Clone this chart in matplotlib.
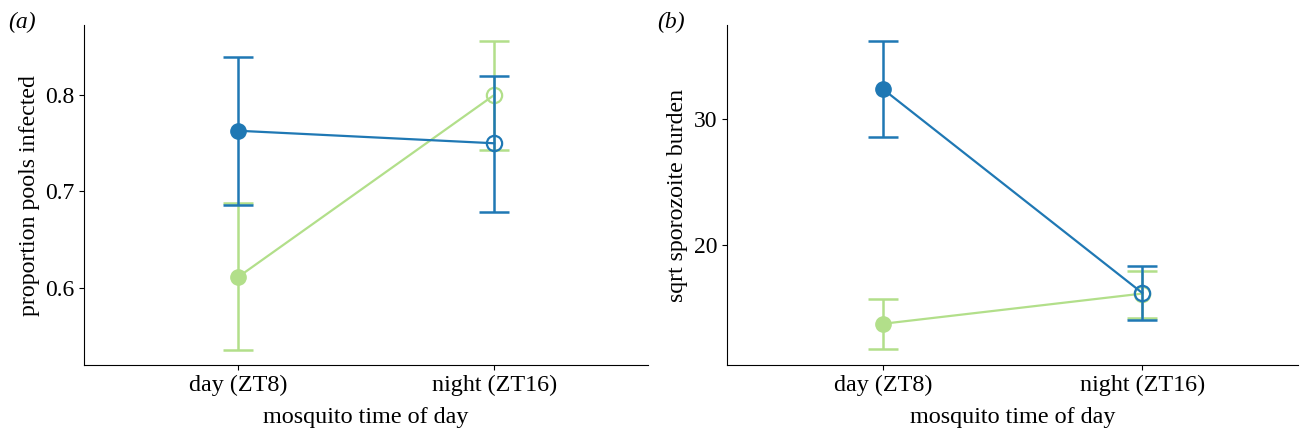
import numpy as np
import matplotlib
matplotlib.use("Agg")
import matplotlib.pyplot as plt

plt.rcParams['font.family'] = ['Liberation Serif', 'DejaVu Serif']
plt.rcParams['mathtext.fontset'] = 'stix'

categories = ["day (ZT8)", "night (ZT16)"]

# panel a: proportion of pools infected
a_blue = [0.763, 0.750]
a_blue_lo = [0.686, 0.679]
a_blue_hi = [0.840, 0.820]
a_green = [0.611, 0.800]
a_green_lo = [0.536, 0.743]
a_green_hi = [0.688, 0.856]

# panel b: sqrt sporozoite burden
b_blue = [32.4, 16.2]
b_blue_lo = [28.55, 14.05]
b_blue_hi = [36.2, 18.35]
b_green = [13.75, 16.15]
b_green_lo = [11.75, 14.2]
b_green_hi = [15.7, 17.95]

BLUE = "#1f78b4"
GREEN = "#b2df8a"


def draw_series(ax, y, lo, hi, color, zorder):
    x = np.arange(len(y))
    y = np.array(y)
    yerr = [y - np.array(lo), np.array(hi) - y]
    ax.errorbar(x, y, yerr=yerr, color=color, capsize=11, capthick=1.8,
                elinewidth=1.8, fmt="none", zorder=zorder)
    ax.plot(x, y, color=color, lw=1.6, zorder=zorder)
    ax.plot(x[:1], y[:1], "o", color=color, ms=11, zorder=zorder + 1)
    ax.plot(x[1:], y[1:], "o", mfc="none", mec=color, mew=1.6, ms=11, zorder=zorder + 1)


def style_axes(ax, ylabel):
    ax.set_xticks(range(len(categories)))
    ax.set_xticklabels(categories)
    ax.set_xlim(-0.6, 1.6)
    ax.set_xlabel("mosquito time of day", fontsize=17.4, labelpad=8)
    ax.set_ylabel(ylabel, fontsize=17.2, labelpad=4)
    ax.tick_params(axis="x", labelsize=17.4)
    ax.tick_params(axis="y", labelsize=17)
    for s in ["top", "right"]:
        ax.spines[s].set_visible(False)


fig = plt.figure(figsize=(13.01, 4.34), dpi=100)
ax1 = fig.add_axes([0.0646, 0.159, 0.4334, 0.783])
ax2 = fig.add_axes([0.5588, 0.159, 0.4389, 0.783])

draw_series(ax1, a_green, a_green_lo, a_green_hi, GREEN, 2)
draw_series(ax1, a_blue, a_blue_lo, a_blue_hi, BLUE, 3)
style_axes(ax1, "proportion pools infected")
ax1.set_ylim(0.520, 0.8725)
ax1.set_yticks([0.6, 0.7, 0.8])

draw_series(ax2, b_green, b_green_lo, b_green_hi, GREEN, 2)
draw_series(ax2, b_blue, b_blue_lo, b_blue_hi, BLUE, 3)
style_axes(ax2, "sqrt sporozoite burden")
ax2.set_ylim(10.48, 37.46)
ax2.set_yticks([20, 30])

fig.text(0.006, 0.935, "(a)", fontsize=17, style="italic")
fig.text(0.505, 0.935, "(b)", fontsize=17, style="italic")

fig.savefig("out.png", dpi=100)
